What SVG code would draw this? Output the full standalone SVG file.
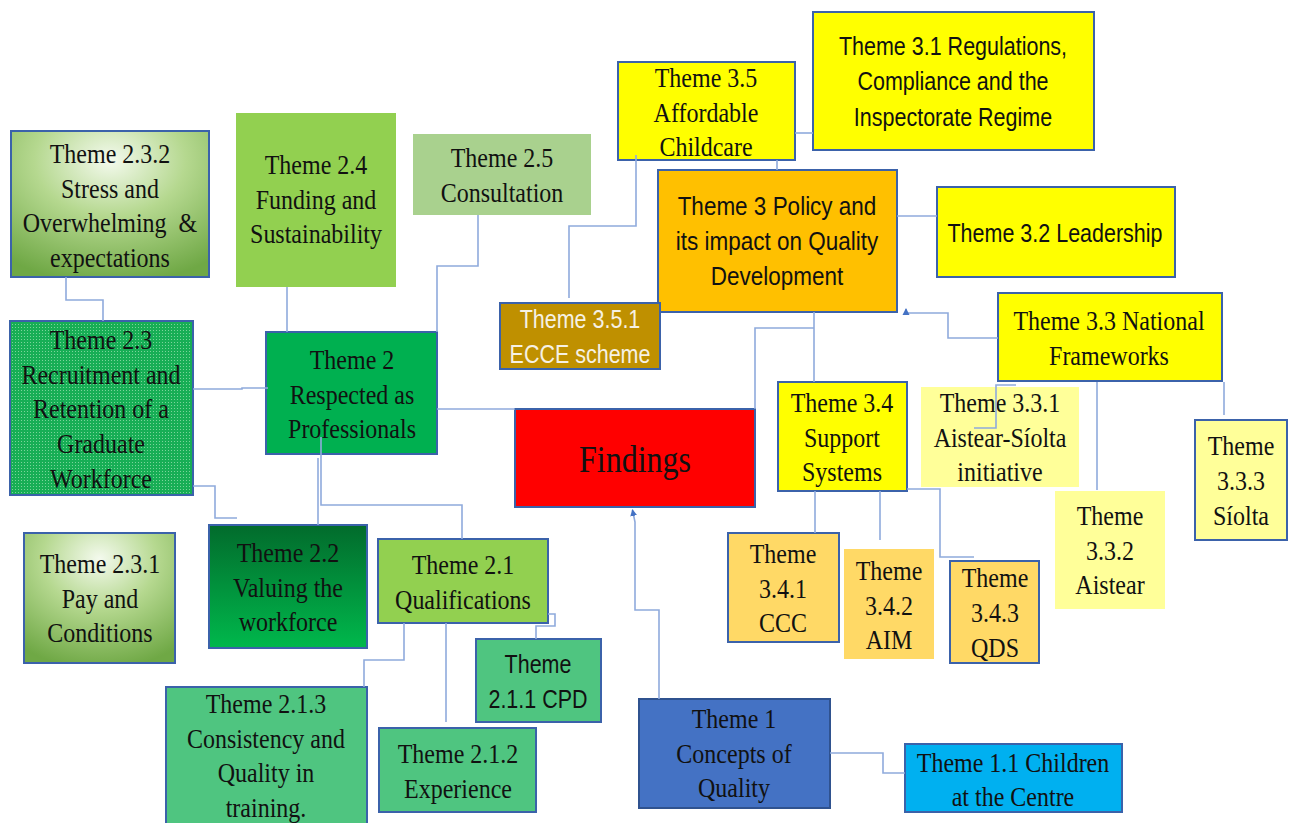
<svg xmlns="http://www.w3.org/2000/svg" width="1293" height="823" viewBox="0 0 1293 823">
  <style>
    .b { stroke: #3B62AA; stroke-width: 2; }
    .nb { stroke: none; }
    .serif { font-family: "Liberation Serif", "Times New Roman", serif; font-size: 24px; fill: #111; text-anchor: middle; }
    .sans { font-family: "Liberation Sans", Arial, sans-serif; font-size: 21.5px; fill: #111; text-anchor: middle; }
    .wht { fill: #F6F1E4; }
    .conn path { fill: none; stroke: #8FAADC; stroke-width: 1.6; }
  </style>
  <defs>
    <radialGradient id="gPale" cx="0.5" cy="0.2" r="0.85">
      <stop offset="0" stop-color="#F4FAEE"/>
      <stop offset="0.45" stop-color="#B5D88F"/>
      <stop offset="1" stop-color="#6FA845"/>
    </radialGradient>
    <linearGradient id="gDeep" x1="0" y1="0" x2="0" y2="1">
      <stop offset="0" stop-color="#026B2C"/>
      <stop offset="1" stop-color="#00B84C"/>
    </linearGradient>
    <pattern id="dots" width="3" height="3" patternUnits="userSpaceOnUse">
      <rect width="3" height="3" fill="#17AE55"/>
      <rect width="1" height="1" fill="#7BD49A"/>
    </pattern>
    <marker id="arr" markerWidth="8" markerHeight="8" refX="6" refY="4" orient="auto" markerUnits="userSpaceOnUse">
      <path d="M0,0.5 L7,4 L0,7.5 Z" fill="#4472C4"/>
    </marker>
  </defs>

  <rect width="1293" height="823" fill="#FFFFFF"/>

  <!-- Theme 2 branch -->
  <g id="t232">
    <rect x="11" y="131" width="198" height="146" fill="url(#gPale)" class="b"/>
    <text class="serif" transform="translate(110 163) scale(1 1.18)"><tspan x="0" y="0">Theme 2.3.2</tspan><tspan x="0" dy="29.4">Stress and</tspan><tspan x="0" dy="29.4" xml:space="preserve">Overwhelming  &amp;</tspan><tspan x="0" dy="29.4">expectations</tspan></text>
  </g>
  <g id="t24">
    <rect x="236" y="113" width="160" height="174" fill="#92D050" class="nb"/>
    <text class="serif" transform="translate(316 174) scale(1 1.18)"><tspan x="0" y="0">Theme 2.4</tspan><tspan x="0" dy="29.4">Funding and</tspan><tspan x="0" dy="29.4">Sustainability</tspan></text>
  </g>
  <g id="t25">
    <rect x="413" y="134" width="178" height="81" fill="#A9D18E" class="nb"/>
    <text class="serif" transform="translate(502 167) scale(1 1.18)"><tspan x="0" y="0">Theme 2.5</tspan><tspan x="0" dy="29.4">Consultation</tspan></text>
  </g>
  <g id="t23">
    <rect x="10" y="321" width="183" height="174" fill="url(#dots)" class="b"/>
    <text class="serif" transform="translate(101 349) scale(1 1.18)"><tspan x="0" y="0">Theme 2.3</tspan><tspan x="0" dy="29.4">Recruitment and</tspan><tspan x="0" dy="29.4">Retention of a</tspan><tspan x="0" dy="29.4">Graduate</tspan><tspan x="0" dy="29.4">Workforce</tspan></text>
  </g>
  <g id="t2">
    <rect x="266" y="332" width="171" height="122" fill="#00B050" class="b"/>
    <text class="serif" transform="translate(352 369) scale(1 1.18)"><tspan x="0" y="0">Theme 2</tspan><tspan x="0" dy="29.4">Respected as</tspan><tspan x="0" dy="29.4">Professionals</tspan></text>
  </g>
  <g id="t231">
    <rect x="24" y="533" width="151" height="130" fill="url(#gPale)" class="b"/>
    <text class="serif" transform="translate(100 573) scale(1 1.18)"><tspan x="0" y="0">Theme 2.3.1</tspan><tspan x="0" dy="29.4">Pay and</tspan><tspan x="0" dy="29.4">Conditions</tspan></text>
  </g>
  <g id="t22">
    <rect x="209" y="525" width="158" height="123" fill="url(#gDeep)" class="b"/>
    <text class="serif" transform="translate(288 562) scale(1 1.18)"><tspan x="0" y="0">Theme 2.2</tspan><tspan x="0" dy="29.4">Valuing the</tspan><tspan x="0" dy="29.4">workforce</tspan></text>
  </g>
  <g id="t21">
    <rect x="378" y="539" width="170" height="84" fill="#92D050" class="b"/>
    <text class="serif" transform="translate(463 574) scale(1 1.18)"><tspan x="0" y="0">Theme 2.1</tspan><tspan x="0" dy="29.4">Qualifications</tspan></text>
  </g>
  <g id="t211">
    <rect x="476" y="639" width="125" height="83" fill="#4FC580" class="b"/>
    <text class="sans" transform="translate(538 673) scale(1 1.18)"><tspan x="0" y="0">Theme</tspan><tspan x="0" dy="29.4">2.1.1 CPD</tspan></text>
  </g>
  <g id="t213">
    <rect x="166" y="687" width="201" height="145" fill="#4FC580" class="b"/>
    <text class="serif" transform="translate(266 713) scale(1 1.18)"><tspan x="0" y="0">Theme 2.1.3</tspan><tspan x="0" dy="29.4">Consistency and</tspan><tspan x="0" dy="29.4">Quality in</tspan><tspan x="0" dy="29.4">training.</tspan></text>
  </g>
  <g id="t212">
    <rect x="379" y="728" width="157" height="84" fill="#4FC580" class="b"/>
    <text class="serif" transform="translate(458 763) scale(1 1.18)"><tspan x="0" y="0">Theme 2.1.2</tspan><tspan x="0" dy="29.4">Experience</tspan></text>
  </g>

  <!-- Centre -->
  <g id="findings">
    <rect x="515" y="409" width="240" height="98" fill="#FF0000" class="b"/>
    <text class="serif" transform="translate(635 472) scale(1 1.18)" style="font-size:32px">Findings</text>
  </g>

  <!-- Theme 1 branch -->
  <g id="t1">
    <rect x="639" y="699" width="191" height="109" fill="#4472C4" stroke="#2F528F" stroke-width="2"/>
    <text class="serif" transform="translate(734 728) scale(1 1.18)"><tspan x="0" y="0">Theme 1</tspan><tspan x="0" dy="29.4">Concepts of</tspan><tspan x="0" dy="29.4">Quality</tspan></text>
  </g>
  <g id="t11">
    <rect x="905" y="744" width="217" height="68" fill="#00B0F0" class="b"/>
    <text class="serif" transform="translate(1013 772) scale(1 1.18)"><tspan x="0" y="0">Theme 1.1 Children</tspan><tspan x="0" dy="28.5">at the Centre</tspan></text>
  </g>

  <!-- Theme 3 branch -->
  <g id="t35">
    <rect x="618" y="62" width="177" height="98" fill="#FFFF00" class="b"/>
    <text class="serif" transform="translate(706 87) scale(1 1.18)"><tspan x="0" y="0">Theme 3.5</tspan><tspan x="0" dy="29.4">Affordable</tspan><tspan x="0" dy="29.4">Childcare</tspan></text>
  </g>
  <g id="t31">
    <rect x="813" y="12" width="281" height="138" fill="#FFFF00" class="b"/>
    <text class="sans" transform="translate(953 55) scale(1 1.18)"><tspan x="0" y="0">Theme 3.1 Regulations,</tspan><tspan x="0" dy="29.9">Compliance and the</tspan><tspan x="0" dy="29.9">Inspectorate Regime</tspan></text>
  </g>
  <g id="t3">
    <rect x="658" y="170" width="239" height="142" fill="#FFC000" class="b"/>
    <text class="sans" transform="translate(777 215) scale(1 1.18)" style="font-size:22.5px"><tspan x="0" y="0">Theme 3 Policy and</tspan><tspan x="0" dy="29.7">its impact on Quality</tspan><tspan x="0" dy="29.7">Development</tspan></text>
  </g>
  <g id="t32">
    <rect x="937" y="187" width="238" height="90" fill="#FFFF00" class="b"/>
    <text class="sans" transform="translate(1055 242) scale(1 1.18)">Theme 3.2 Leadership</text>
  </g>
  <g id="t351">
    <rect x="500" y="303" width="160" height="66" fill="#BF9000" class="b"/>
    <text class="sans wht" transform="translate(580 328) scale(1 1.18)"><tspan x="0" y="0">Theme 3.5.1</tspan><tspan x="0" dy="29.7">ECCE scheme</tspan></text>
  </g>
  <g id="t33">
    <rect x="998" y="293" width="224" height="88" fill="#FFFF00" class="b"/>
    <text class="serif" transform="translate(1109 330) scale(1 1.18)"><tspan x="0" y="0">Theme 3.3 National</tspan><tspan x="0" dy="29.7">Frameworks</tspan></text>
  </g>
  <g id="t34">
    <rect x="778" y="382" width="129" height="109" fill="#FFFF00" class="b"/>
    <text class="serif" transform="translate(842 412) scale(1 1.18)"><tspan x="0" y="0">Theme 3.4</tspan><tspan x="0" dy="29.4">Support</tspan><tspan x="0" dy="29.4">Systems</tspan></text>
  </g>
  <g id="t331">
    <rect x="921" y="387" width="158" height="100" fill="#FFFF99" class="nb"/>
    <text class="serif" transform="translate(1000 412) scale(1 1.18)"><tspan x="0" y="0">Theme 3.3.1</tspan><tspan x="0" dy="29.4">Aistear-Síolta</tspan><tspan x="0" dy="29.4">initiative</tspan></text>
  </g>
  <g id="t332">
    <rect x="1055" y="491" width="110" height="118" fill="#FFFF99" class="nb"/>
    <text class="serif" transform="translate(1110 525) scale(1 1.18)"><tspan x="0" y="0">Theme</tspan><tspan x="0" dy="29.4">3.3.2</tspan><tspan x="0" dy="29.4">Aistear</tspan></text>
  </g>
  <g id="t333">
    <rect x="1195" y="420" width="92" height="120" fill="#FFFF99" class="b"/>
    <text class="serif" transform="translate(1241 455) scale(1 1.18)"><tspan x="0" y="0">Theme</tspan><tspan x="0" dy="29.7">3.3.3</tspan><tspan x="0" dy="29.7">Síolta</tspan></text>
  </g>
  <g id="t341">
    <rect x="728" y="533" width="111" height="109" fill="#FFD966" class="b"/>
    <text class="serif" transform="translate(783 563) scale(1 1.18)"><tspan x="0" y="0">Theme</tspan><tspan x="0" dy="29.4">3.4.1</tspan><tspan x="0" dy="29.4">CCC</tspan></text>
  </g>
  <g id="t342">
    <rect x="844" y="549" width="90" height="110" fill="#FFD966" class="nb"/>
    <text class="serif" transform="translate(889 580) scale(1 1.18)"><tspan x="0" y="0">Theme</tspan><tspan x="0" dy="29.4">3.4.2</tspan><tspan x="0" dy="29.4">AIM</tspan></text>
  </g>
  <g id="t343">
    <rect x="950" y="561" width="89" height="102" fill="#FFD966" class="b"/>
    <text class="serif" transform="translate(995 587) scale(1 1.18)"><tspan x="0" y="0">Theme</tspan><tspan x="0" dy="29.7">3.4.3</tspan><tspan x="0" dy="29.7">QDS</tspan></text>
  </g>

  <!-- Elbow connectors -->
  <g id="connectors" class="conn">
    <path d="M66 277 V300 H103 V321"/>
    <path d="M287 287 V332"/>
    <path d="M478 215 V266 H437 V332"/>
    <path d="M193 389 H242 V388 H268"/>
    <path d="M437 409 H515"/>
    <path d="M193 486 H215 V518 H237"/>
    <path d="M318 458 V525"/>
    <path d="M321 437 V505 H462 V539"/>
    <path d="M404 623 V660 H364 V687"/>
    <path d="M446 623 V722"/>
    <path d="M548 614 H555 V626 H536 V639"/>
    <path d="M659 699 V610 H635 V522 L632.5 510" marker-end="url(#arr)"/>
    <path d="M830 753 H883 V773 H905"/>
    <path d="M636 155 V226 H569 V298"/>
    <path d="M795 133 H813"/>
    <path d="M777 160 V170"/>
    <path d="M897 216 H937"/>
    <path d="M814 312 V382"/>
    <path d="M814 328 H755 V409"/>
    <path d="M998 338 H948 V313 H906 V309" marker-end="url(#arr)"/>
    <path d="M1016 385 H996 V428 H974"/>
    <path d="M1097 382 V490"/>
    <path d="M1224 382 V415"/>
    <path d="M815 491 V533"/>
    <path d="M880 491 V540"/>
    <path d="M907 489 H940 V557 H974"/>
  </g>
</svg>
